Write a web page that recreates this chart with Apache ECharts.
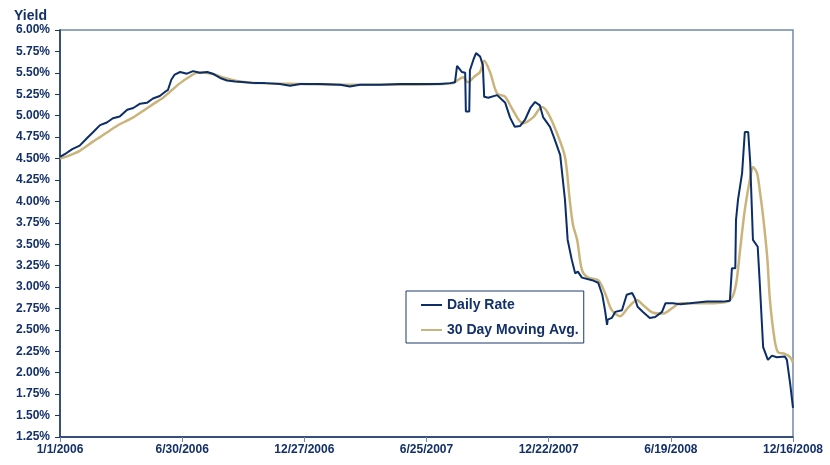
<!DOCTYPE html>
<html>
<head>
<meta charset="utf-8">
<script src="https://cdn.jsdelivr.net/npm/echarts@6/dist/echarts.min.js"></script>
<style>
  html, body { margin: 0; padding: 0; background: #fff; }
  #chart { width: 830px; height: 465px; }
</style>
</head>
<body>
<div id="chart"></div>
<script>
// x values are days since 1/1/2006
const xTickLabels = ['1/1/2006', '6/30/2006', '12/27/2006', '6/25/2007', '12/22/2007', '6/19/2008', '12/16/2008'];

const dailyDays = [0, 7, 18, 29, 40, 49, 59, 69, 78, 88, 99, 108, 118, 128, 137, 147, 155, 159, 164, 169,
  177, 187, 196, 206, 217, 225, 236, 246, 258, 273, 287, 302, 324, 339, 354, 383, 413, 427, 442, 471,
  501, 530, 560, 575, 582, 585, 592, 597, 598, 603, 604, 609, 613, 619, 623, 625, 631, 644, 656, 663,
  670, 678, 685, 693, 700, 707, 712, 722, 729, 737, 744, 748, 754, 759, 763, 769, 784, 793, 799, 803,
  806, 807, 813, 818, 828, 835, 843, 847, 851, 859, 869, 877, 887, 892, 903, 914, 928, 953, 977, 987,
  990, 995, 996, 999, 1005, 1009, 1014, 1017, 1021, 1028, 1031, 1036, 1043, 1049, 1056, 1068, 1071, 1076, 1080];
const dailyRate = [4.52, 4.55, 4.61, 4.65, 4.74, 4.81, 4.89, 4.92, 4.97, 4.99, 5.07, 5.09, 5.14, 5.15, 5.20, 5.23, 5.28, 5.30, 5.42, 5.48,
  5.51, 5.49, 5.52, 5.50, 5.51, 5.49, 5.44, 5.41, 5.40, 5.39, 5.38, 5.38, 5.37, 5.35, 5.37, 5.37, 5.36, 5.34, 5.36, 5.36,
  5.37, 5.37, 5.37, 5.38, 5.39, 5.58, 5.51, 5.50, 5.05, 5.05, 5.53, 5.65, 5.73, 5.69, 5.59, 5.22, 5.21, 5.24, 5.15, 4.98,
  4.87, 4.88, 4.95, 5.09, 5.16, 5.12, 4.98, 4.87, 4.72, 4.54, 4.02, 3.55, 3.32, 3.16, 3.18, 3.11, 3.08, 3.05, 2.91, 2.73,
  2.56, 2.62, 2.64, 2.71, 2.73, 2.91, 2.93, 2.87, 2.77, 2.71, 2.64, 2.65, 2.71, 2.81, 2.81, 2.80, 2.81, 2.83, 2.83, 2.84,
  3.22, 3.22, 3.78, 4.02, 4.33, 4.81, 4.81, 4.45, 3.55, 3.47, 3.05, 2.30, 2.15, 2.20, 2.18, 2.19, 2.15, 1.86, 1.59];

const avgDays = [0, 15, 29, 49, 59, 74, 88, 108, 125, 140, 152, 162, 177, 192, 202, 214, 228, 243, 265, 295,
  354, 427, 501, 560, 579, 594, 601, 611, 619, 625, 634, 644, 656, 667, 682, 697, 710, 719, 732, 744,
  751, 756, 762, 769, 778, 793, 803, 813, 825, 837, 850, 859, 874, 888, 903, 914, 953, 984, 992, 997,
  1002, 1009, 1017, 1021, 1027, 1031, 1036, 1042, 1046, 1053, 1058, 1068, 1076, 1080];
const movingAvg = [4.50, 4.54, 4.59, 4.70, 4.75, 4.83, 4.90, 4.98, 5.07, 5.15, 5.21, 5.28, 5.38, 5.46, 5.50, 5.50, 5.48, 5.44, 5.40, 5.38,
  5.37, 5.36, 5.36, 5.37, 5.38, 5.45, 5.39, 5.46, 5.51, 5.64, 5.50, 5.26, 5.22, 5.07, 4.91, 4.98, 5.10, 5.03, 4.80, 4.52,
  4.02, 3.72, 3.55, 3.20, 3.11, 3.08, 2.93, 2.73, 2.66, 2.76, 2.85, 2.79, 2.70, 2.69, 2.76, 2.81, 2.81, 2.83, 2.91, 3.08,
  3.43, 3.90, 4.28, 4.40, 4.33, 4.13, 3.82, 3.35, 2.85, 2.38, 2.24, 2.22, 2.18, 2.12];

const navy = '#0b2e68';
const tan = '#cbb47c';
const textColor = '#13306a';
const font = 'Liberation Sans, Arial, sans-serif';

let chart = echarts.init(document.getElementById('chart'));
let option = {
    animation: false,
    backgroundColor: '#fff',
    title: {
        text: 'Yield',
        left: 9,
        top: 4,
        textStyle: { fontFamily: font, fontSize: 14, fontWeight: 'bold', color: textColor }
    },
    legend: {
        orient: 'vertical',
        left: 406,
        top: 291,
        padding: [7, 5, 6, 15],
        icon: 'rect',
        itemWidth: 21,
        itemHeight: 2,
        itemGap: 11,
        borderColor: '#1a3a70',
        borderWidth: 1,
        textStyle: { fontFamily: font, fontSize: 14, fontWeight: 'bold', color: textColor, lineHeight: 14 },
        data: ['Daily Rate', '30 Day Moving Avg.']
    },
    grid: {
        left: 60,
        right: 37,
        top: 30,
        bottom: 28,
        show: true,
        borderColor: '#7089a8',
        borderWidth: 1.5
    },
    xAxis: {
        type: 'value',
        min: 0,
        max: 1080,
        interval: 180,
        splitLine: { show: false },
        axisLine: { lineStyle: { color: '#1a3566', width: 1.5 } },
        axisTick: { show: true, length: 5, lineStyle: { color: '#7089a8' } },
        axisLabel: {
            margin: 7,
            fontFamily: font,
            fontSize: 12,
            fontWeight: 'bold',
            color: textColor,
            formatter: function (value) {
                return xTickLabels[Math.round(value / 180)];
            }
        }
    },
    yAxis: {
        type: 'value',
        min: 1.25,
        max: 6.0,
        interval: 0.25,
        splitLine: { show: false },
        axisLine: { show: true, lineStyle: { color: '#1a3566', width: 1.5 } },
        axisTick: { show: true, length: 5, lineStyle: { color: '#1a3566' } },
        axisLabel: {
            margin: 10,
            fontFamily: font,
            fontSize: 12,
            fontWeight: 'bold',
            color: textColor,
            formatter: function (value) {
                return value.toFixed(2) + '%';
            }
        }
    },
    series: [
        {
            name: '30 Day Moving Avg.',
            type: 'line',
            symbol: 'none',
            smooth: 0.3,
            z: 2,
            lineStyle: { color: tan, width: 2.5 },
            itemStyle: { color: tan },
            data: avgDays.map((d, i) => [d, movingAvg[i]])
        },
        {
            name: 'Daily Rate',
            type: 'line',
            symbol: 'none',
            z: 3,
            lineStyle: { color: navy, width: 2 },
            itemStyle: { color: navy },
            data: dailyDays.map((d, i) => [d, dailyRate[i]])
        }
    ]
};
chart.setOption(option);
</script>
</body>
</html>
